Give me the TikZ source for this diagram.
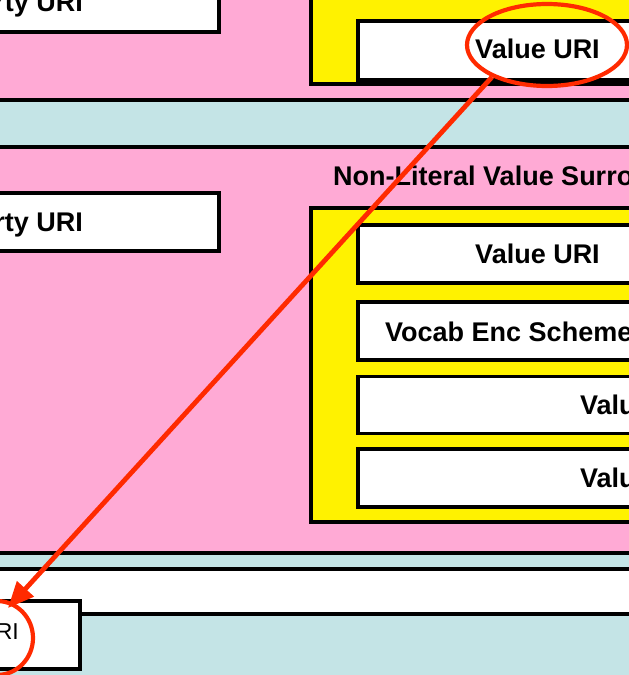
\documentclass[tikz,border=0pt]{standalone}
\usepackage{fontspec}
\setmainfont{Liberation Sans}
\usetikzlibrary{arrows.meta,shapes.geometric}
\definecolor{bandpink}{RGB}{255,170,213}
\definecolor{bandcyan}{RGB}{196,228,230}
\definecolor{markred}{RGB}{255,42,0}
\tikzset{
  x=1pt, y=-1pt,
  band/.style={draw=black, line width=4pt},
  ybox/.style={draw=black, fill=yellow, line width=3.2pt},
  wbox/.style={draw=black, fill=white, line width=3.2pt},
  lbl/.style={font=\fontsize{27}{30}\selectfont\bfseries, inner sep=0pt},
  lblr/.style={font=\fontsize{23}{26}\selectfont, inner sep=0pt},
  redmark/.style={draw=markred, line width=4.2pt, ellipse, inner sep=0pt},
}
\begin{document}
\begin{tikzpicture}
\useasboundingbox (0,0) rectangle (629,675);
\clip (0,0) rectangle (629,675);
\fill[bandcyan] (-10,-10) rectangle (640,690);
% bands
\draw[band, fill=bandpink] (-20,-120) rectangle (660,100);
\draw[band, fill=bandpink] (-20,147) rectangle (660,553);
\draw[band, fill=white] (-20,569) rectangle (660,614);
% top band content
\node[wbox, minimum width=437pt, minimum height=62pt, inner sep=0pt] (ptop) at (0.5,1) {};
\node[lbl, anchor=base east] (ptoplbl) at (83,11) {Property URI};
\node[ybox, minimum width=460pt, minimum height=130pt, inner sep=0pt] (ytop) at (541,19) {};
\node[wbox, minimum width=358pt, minimum height=59pt, inner sep=0pt] (vtop) at (537,50.5) {};
\node[lbl, anchor=base] (vtoplbl) at (537.5,58) {Value URI};
% middle band content
\node[lbl, anchor=base west] (nlvs) at (333,185) {Non-Literal Value Surrogate};
\node[wbox, minimum width=437pt, minimum height=58pt, inner sep=0pt] (pmid) at (0.5,222) {};
\node[lbl, anchor=base east] (pmidlbl) at (83,231) {Property URI};
\node[ybox, minimum width=460pt, minimum height=314pt, inner sep=0pt] (ymid) at (541,365) {};
\node[wbox, minimum width=358pt, minimum height=58pt, inner sep=0pt] (v1) at (537,254) {};
\node[lbl, anchor=base] (v1lbl) at (537.5,263) {Value URI};
\node[wbox, minimum width=358pt, minimum height=58pt, inner sep=0pt] (v2) at (537,331) {};
\node[lbl, anchor=base west] (v2lbl) at (385,341) {Vocab Enc Scheme URI};
\node[wbox, minimum width=358pt, minimum height=57pt, inner sep=0pt] (v3) at (537,405) {};
\node[lbl, anchor=base west] (v3lbl) at (580,414) {Value String};
\node[wbox, minimum width=358pt, minimum height=58pt, inner sep=0pt] (v4) at (537,478) {};
\node[lbl, anchor=base west] (v4lbl) at (580,487) {Value String};
% bottom box
\node[wbox, minimum width=200pt, minimum height=68pt, inner sep=0pt] (pbot) at (-20,635) {};
\node[lblr, anchor=base east] (pbotlbl) at (19,639) {Value URI};
% red marks
\node[redmark, minimum width=160pt, minimum height=82pt] (e1) at (547,45) {};
\node[redmark, minimum width=72pt, minimum height=74pt] (e2) at (-3,638) {};
\coordinate (from) at (492,77);
\coordinate (to) at (8,608);
\draw[markred, line width=4.8pt, -{Triangle[length=26pt,width=22pt]}] (from) -- (to);
\end{tikzpicture}
\end{document}
